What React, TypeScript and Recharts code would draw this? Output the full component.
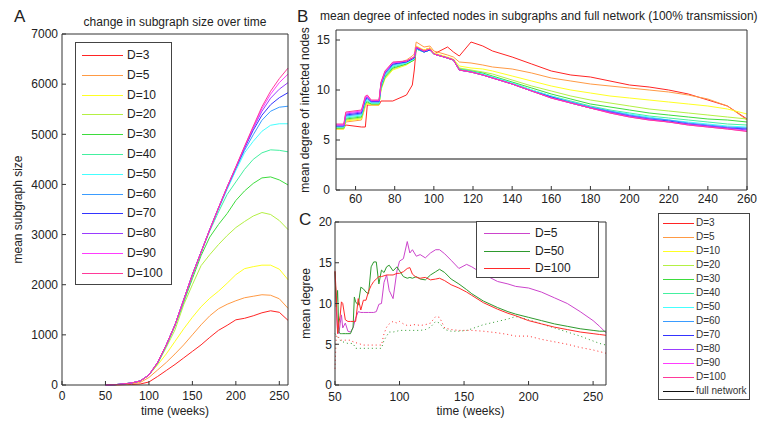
import React from 'react';
import { LineChart, Line, XAxis, YAxis, Legend, ReferenceLine } from 'recharts';

const FONT = '"Liberation Sans", Arial, sans-serif';
const INK = '#222';

// series names and colours shared by panels A and B
const D_LABELS = ['D=3', 'D=5', 'D=10', 'D=20', 'D=30', 'D=40', 'D=50', 'D=60', 'D=70', 'D=80', 'D=90', 'D=100'];
const D_COLORS = ['#ff2424', '#ff9a44', '#ffff22', '#b4f044', '#3ddc3d', '#44f0a0', '#44ffff', '#3a9cff', '#3434ff', '#9a3cff', '#ff3cff', '#ff3a9a'];

// ---- panel A : mean subgraph size ----
const WEEKS_A = [50, 60, 70, 80, 90, 100, 110, 120, 130, 140, 150, 160, 170, 180, 190, 200, 210, 220, 230, 240, 250, 260];
const SIZE_D3 = [0, 0, 5, 10, 20, 60, 170, 290, 410, 540, 670, 800, 950, 1090, 1190, 1300, 1330, 1380, 1440, 1480, 1450, 1290];
const SIZE_D5 = [0, 3, 10, 25, 50, 150, 300, 450, 620, 800, 1000, 1200, 1380, 1520, 1610, 1680, 1740, 1770, 1800, 1790, 1720, 1530];
const SIZE_D10 = [0, 5, 15, 35, 70, 200, 400, 620, 870, 1120, 1350, 1560, 1730, 1870, 2030, 2200, 2320, 2360, 2390, 2390, 2310, 2100];
const SIZE_D20 = [0, 5, 20, 40, 80, 200, 430, 750, 1100, 1600, 2000, 2380, 2600, 2800, 2980, 3140, 3260, 3370, 3440, 3400, 3280, 3100];
const SIZE_D30 = [0, 5, 20, 40, 80, 200, 430, 780, 1180, 1650, 2120, 2580, 2950, 3200, 3420, 3680, 3870, 4020, 4130, 4150, 4090, 3990];
const SIZE_D40 = [0, 5, 20, 40, 80, 200, 440, 790, 1190, 1680, 2180, 2640, 3070, 3450, 3800, 4050, 4300, 4500, 4630, 4690, 4680, 4650];
const SIZE_D50 = [0, 5, 20, 40, 80, 200, 440, 790, 1200, 1690, 2200, 2650, 3090, 3500, 3900, 4280, 4630, 4860, 5060, 5180, 5210, 5210];
const SIZE_D60 = [0, 5, 20, 40, 80, 200, 440, 800, 1200, 1700, 2200, 2650, 3100, 3520, 3930, 4320, 4680, 4990, 5280, 5460, 5540, 5560];
const SIZE_D70 = [0, 5, 20, 40, 80, 200, 450, 800, 1200, 1700, 2200, 2650, 3100, 3530, 3940, 4330, 4720, 5080, 5380, 5590, 5730, 5830];
const SIZE_D80 = [0, 5, 20, 40, 80, 200, 450, 800, 1200, 1700, 2200, 2650, 3100, 3530, 3950, 4340, 4740, 5120, 5460, 5720, 5900, 6030];
const SIZE_D90 = [0, 5, 20, 40, 80, 200, 450, 800, 1200, 1700, 2200, 2650, 3100, 3530, 3950, 4350, 4750, 5140, 5510, 5800, 6030, 6200];
const SIZE_D100 = [0, 5, 20, 40, 80, 200, 450, 800, 1200, 1700, 2200, 2650, 3100, 3530, 3950, 4350, 4760, 5160, 5550, 5860, 6110, 6320];
const SIZE_SERIES = [SIZE_D3, SIZE_D5, SIZE_D10, SIZE_D20, SIZE_D30, SIZE_D40, SIZE_D50, SIZE_D60, SIZE_D70, SIZE_D80, SIZE_D90, SIZE_D100];
const TICKS_A_X = [0, 50, 100, 150, 200, 250];
const TICKS_A_Y = [0, 1000, 2000, 3000, 4000, 5000, 6000, 7000];

// ---- panel B : mean degree of infected nodes ----
const WEEKS_B = [50, 54, 55, 63, 65, 66, 68, 72, 73, 75, 79, 86, 89, 90, 91, 95, 98, 100, 107, 110, 113, 119, 125, 130, 140, 150, 160, 170, 180, 190, 200, 210, 220, 230, 240, 250, 260];
const DEG_D3 = [6.2, 6.2, 6.5, 6.3, 6.3, 8.5, 8.5, 8.5, 8.9, 8.9, 8.9, 9.5, 10.5, 12.0, 14.2, 14.0, 14.2, 13.6, 14.3, 13.8, 13.4, 14.8, 14.4, 13.9, 13.3, 12.6, 11.9, 11.5, 11.3, 10.9, 10.5, 10.3, 10.0, 9.6, 9.0, 8.4, 7.1];
const DEG_D5 = [6.1, 6.1, 6.8, 7.0, 8.4, 8.6, 8.6, 8.6, 10.3, 11.4, 12.5, 13.0, 13.4, 13.6, 14.8, 14.3, 14.4, 13.9, 13.5, 13.3, 12.8, 12.7, 12.5, 12.3, 12.1, 11.7, 11.2, 10.9, 10.6, 10.4, 10.2, 10.0, 9.8, 9.5, 9.1, 8.4, 7.0];
const DEG_D10 = [6.1, 6.1, 6.9, 7.1, 8.5, 8.6, 8.5, 8.5, 10.0, 11.1, 12.0, 12.5, 12.9, 13.1, 14.4, 14.0, 14.2, 13.7, 13.3, 13.1, 12.4, 12.2, 12.1, 11.9, 11.4, 10.9, 10.4, 10.0, 9.7, 9.4, 9.2, 9.0, 8.8, 8.6, 8.4, 8.1, 7.6];
const DEG_D20 = [6.2, 6.2, 7.0, 7.2, 8.6, 8.7, 8.6, 8.6, 10.1, 11.2, 12.1, 12.6, 12.9, 13.0, 14.2, 13.9, 14.1, 13.6, 13.2, 13.0, 12.2, 12.0, 11.8, 11.6, 11.0, 10.4, 9.9, 9.4, 9.0, 8.7, 8.4, 8.1, 7.9, 7.7, 7.5, 7.3, 7.1];
const DEG_D30 = [6.2, 6.2, 7.1, 7.3, 8.7, 8.8, 8.6, 8.6, 10.2, 11.3, 12.2, 12.6, 12.9, 13.0, 14.1, 13.8, 14.0, 13.6, 13.2, 13.0, 12.1, 11.9, 11.7, 11.4, 10.8, 10.2, 9.6, 9.1, 8.6, 8.3, 8.0, 7.7, 7.5, 7.3, 7.1, 7.0, 6.8];
const DEG_D40 = [6.3, 6.3, 7.2, 7.4, 8.8, 8.9, 8.7, 8.7, 10.3, 11.4, 12.3, 12.7, 13.0, 13.1, 14.1, 13.8, 14.0, 13.6, 13.2, 13.0, 12.1, 11.9, 11.6, 11.3, 10.7, 10.0, 9.4, 8.9, 8.4, 8.0, 7.7, 7.4, 7.2, 7.0, 6.8, 6.6, 6.5];
const DEG_D50 = [6.3, 6.3, 7.3, 7.5, 8.9, 9.0, 8.7, 8.7, 10.4, 11.5, 12.4, 12.7, 13.0, 13.1, 14.1, 13.8, 14.0, 13.6, 13.2, 13.0, 12.0, 11.8, 11.6, 11.3, 10.7, 10.0, 9.4, 8.8, 8.3, 7.9, 7.6, 7.3, 7.0, 6.8, 6.6, 6.4, 6.3];
const DEG_D60 = [6.4, 6.4, 7.4, 7.6, 9.0, 9.1, 8.8, 8.8, 10.5, 11.6, 12.5, 12.8, 13.1, 13.2, 14.2, 13.8, 14.0, 13.6, 13.2, 13.0, 12.0, 11.8, 11.5, 11.2, 10.6, 9.9, 9.3, 8.8, 8.3, 7.9, 7.5, 7.2, 7.0, 6.7, 6.5, 6.3, 6.2];
const DEG_D70 = [6.4, 6.4, 7.5, 7.7, 9.1, 9.2, 8.85, 8.85, 10.6, 11.7, 12.6, 12.8, 13.1, 13.2, 14.2, 13.8, 14.0, 13.6, 13.2, 13.0, 12.0, 11.8, 11.5, 11.2, 10.6, 9.9, 9.3, 8.7, 8.2, 7.8, 7.4, 7.1, 6.9, 6.6, 6.4, 6.2, 6.1];
const DEG_D80 = [6.5, 6.5, 7.6, 7.8, 9.2, 9.3, 8.9, 8.9, 10.7, 11.8, 12.7, 12.9, 13.2, 13.3, 14.3, 13.9, 14.1, 13.6, 13.2, 13.0, 12.0, 11.8, 11.5, 11.2, 10.6, 9.9, 9.2, 8.7, 8.2, 7.8, 7.4, 7.1, 6.8, 6.6, 6.4, 6.2, 6.0];
const DEG_D90 = [6.5, 6.5, 7.7, 7.9, 9.3, 9.4, 8.95, 8.95, 10.7, 11.8, 12.7, 12.9, 13.2, 13.3, 14.3, 13.9, 14.1, 13.6, 13.2, 13.0, 12.0, 11.8, 11.5, 11.2, 10.6, 9.9, 9.2, 8.7, 8.2, 7.7, 7.3, 7.0, 6.8, 6.5, 6.3, 6.1, 5.9];
const DEG_D100 = [6.6, 6.6, 7.8, 8.0, 9.4, 9.5, 9.0, 9.0, 10.8, 11.9, 12.8, 12.9, 13.2, 13.3, 14.3, 13.9, 14.1, 13.6, 13.2, 13.0, 12.0, 11.8, 11.5, 11.2, 10.6, 9.9, 9.2, 8.7, 8.2, 7.7, 7.3, 7.0, 6.8, 6.5, 6.3, 6.1, 5.85];
const DEG_SERIES = [DEG_D3, DEG_D5, DEG_D10, DEG_D20, DEG_D30, DEG_D40, DEG_D50, DEG_D60, DEG_D70, DEG_D80, DEG_D90, DEG_D100];
const FULL_NETWORK_DEGREE = 3.1;
const TICKS_B_X = [60, 80, 100, 120, 140, 160, 180, 200, 220, 240, 260];
const TICKS_B_Y = [0, 5, 10, 15];

// ---- panel C : mean degree, selected D ----
const WEEKS_C = [50, 51, 52, 53, 54, 55, 56, 58, 60, 62, 64, 65, 66, 68, 70, 72, 74, 76, 78, 80, 82, 84, 86, 88, 90, 92, 95, 98, 100, 103, 106, 108, 110, 113, 116, 120, 124, 128, 131, 135, 140, 146, 152, 156, 165, 176, 184, 190, 200, 210, 220, 230, 240, 250, 255, 260];
const C_D5 = [13.9, 9.2, 6.7, 6.3, 7.5, 8.6, 7.0, 7.6, 6.6, 6.5, 7.0, 7.6, 8.2, 9.0, 8.9, 8.9, 8.9, 8.9, 8.9, 8.9, 9.0, 9.9, 10.0, 12.6, 13.5, 11.6, 10.6, 14.0, 15.2, 15.5, 17.6, 16.2, 16.6, 15.8, 16.0, 15.6, 16.2, 16.6, 16.6, 16.1, 15.3, 14.3, 14.8, 14.5, 13.6, 12.7, 12.4, 12.1, 11.9, 11.4, 10.7, 10.0, 9.0, 7.9, 7.2, 6.4];
const C_D50 = [13.9, 9.6, 11.6, 6.5, 6.3, 6.3, 6.3, 6.3, 6.3, 6.3, 7.1, 10.8, 10.2, 9.8, 12.0, 11.8, 11.4, 11.2, 14.5, 15.1, 15.1, 12.4, 14.1, 13.8, 14.5, 14.7, 14.0, 14.5, 14.0, 13.3, 13.1, 13.2, 13.1, 13.3, 13.0, 12.9, 13.5, 13.9, 14.2, 13.8, 13.0, 12.4, 11.7, 11.2, 10.3, 9.5, 9.0, 8.7, 8.3, 7.9, 7.5, 7.2, 6.9, 6.7, 6.6, 6.6];
const C_D100 = [14.0, 11.0, 6.3, 7.6, 8.5, 10.2, 10.0, 8.0, 7.8, 7.8, 7.8, 7.8, 7.8, 10.6, 9.2, 10.4, 10.4, 11.5, 12.2, 12.7, 13.0, 13.3, 13.3, 13.4, 13.5, 13.5, 13.5, 13.7, 13.7, 13.9, 14.3, 14.4, 13.6, 13.2, 13.1, 13.2, 12.9, 13.0, 13.1, 12.8, 12.3, 11.9, 11.4, 11.0, 10.1, 9.3, 8.8, 8.5, 7.9, 7.5, 7.1, 6.8, 6.5, 6.3, 6.2, 6.1];
const C_D50_FULL = [6.3, 6.1, 5.9, 5.7, 5.5, 5.3, 5.3, 5.2, 5.1, 5.1, 5.1, 4.8, 4.5, 4.5, 4.5, 4.5, 4.5, 4.5, 4.5, 4.5, 4.5, 4.5, 4.5, 5.5, 6.0, 6.5, 6.5, 6.6, 6.7, 6.7, 6.7, 6.7, 6.7, 6.7, 6.7, 6.8, 7.1, 7.8, 7.6, 6.8, 6.6, 6.6, 6.7, 6.9, 7.4, 7.8, 8.1, 8.4, 8.0, 7.5, 7.0, 6.5, 6.0, 5.4, 5.1, 4.9];
const C_D100_FULL = [2.0, 6.1, 6.0, 5.8, 5.6, 5.5, 5.5, 5.5, 5.5, 5.5, 5.3, 5.3, 5.2, 5.1, 5.0, 4.9, 4.9, 4.9, 4.9, 4.9, 4.9, 4.9, 4.9, 6.3, 7.1, 7.5, 7.8, 7.6, 7.8, 7.5, 7.3, 7.3, 7.4, 7.4, 7.3, 7.4, 7.6, 8.4, 8.3, 7.0, 6.8, 6.7, 6.7, 6.7, 6.6, 6.4, 6.2, 6.0, 6.0, 5.6, 5.3, 5.0, 4.6, 4.3, 4.1, 3.9];
const C_LABELS = ['D=5', 'D=50', 'D=100'];
const C_SOLID = [C_D5, C_D50, C_D100];
const C_DOTTED = [C_D50_FULL, C_D100_FULL];
const C_COLORS = ['#cc44cc', '#2e9a2e', '#ff2a2a'];
const C_DOTTED_COLORS = ['#2e9a2e', '#ff2a2a'];
const TICKS_C_X = [50, 100, 150, 200, 250];
const TICKS_C_Y = [0, 5, 10, 15, 20];

const toRows = (weeks: number[], series: number[][]) =>
  weeks.map((week, i) => {
    const row: Record<string, number> = { week };
    series.forEach((vals, k) => { row['s' + k] = vals[i]; });
    return row;
  });

const sizeRows = toRows(WEEKS_A, SIZE_SERIES);
const degRows = toRows(WEEKS_B, DEG_SERIES);
const cRows = toRows(WEEKS_C, [...C_SOLID, ...C_DOTTED]);

const tickStyle = { fontSize: 12, fill: INK, fontFamily: FONT };
const axisStroke = { stroke: '#333' };

interface BoxProps {
  labels: string[];
  colors: string[];
  width: number;
  height: number;
  firstRow: number;
  rowGap: number;
  lineX: number;
  lineLen: number;
  textX: number;
  fontSize: number;
  textColor?: string;
}

const LegendBox = ({ labels, colors, width, height, firstRow, rowGap, lineX, lineLen, textX, fontSize, textColor = INK }: BoxProps) => (
  <div style={{ position: 'relative', width, height, boxSizing: 'border-box', border: '1px solid #444', background: '#fff', fontFamily: FONT }}>
    {labels.map((label, i) => (
      <div key={label} style={{ position: 'absolute', left: 0, top: Math.round(firstRow + rowGap * i) - 8, height: 16, width: '100%' }}>
        <div style={{ position: 'absolute', left: lineX - 1, top: 8, width: lineLen, height: 1, background: colors[i] }} />
        <span style={{ position: 'absolute', left: textX - 1, top: 0, lineHeight: '16px', fontSize, color: textColor, whiteSpace: 'nowrap' }}>{label}</span>
      </div>
    ))}
  </div>
);

const text = (left: number, top: number, size: number, content: string, extra: React.CSSProperties = {}) => (
  <div style={{ position: 'absolute', left, top, fontSize: size, lineHeight: 1, color: INK, whiteSpace: 'nowrap', ...extra }}>{content}</div>
);

export default function App() {
  return (
    <div style={{ position: 'absolute', left: 0, top: 0, width: 762, height: 422, background: '#fff', fontFamily: FONT, overflow: 'hidden' }}>
      {/* panel A */}
      <div style={{ position: 'absolute', left: 0, top: 0 }}>
        <LineChart width={300} height={422} data={sizeRows} margin={{ top: 33, right: 11, bottom: 17, left: 22 }}>
          <XAxis dataKey="week" type="number" domain={[0, 260]} ticks={TICKS_A_X} interval={0} height={20}
            tickSize={-4} tickMargin={10} tick={tickStyle} axisLine={axisStroke} tickLine={axisStroke}
            label={{ value: 'time (weeks)', position: 'bottom', offset: 1, style: { fontSize: 12, fill: INK } }} />
          <XAxis xAxisId="top" orientation="top" dataKey="week" type="number" domain={[0, 260]} ticks={TICKS_A_X} height={1}
            tickSize={-4} tick={false} axisLine={axisStroke} tickLine={axisStroke} />
          <YAxis type="number" domain={[0, 7000]} ticks={TICKS_A_Y} interval={0} width={40}
            tickSize={-4} tickMargin={8} tick={tickStyle} axisLine={axisStroke} tickLine={axisStroke}
            label={{ value: 'mean subgraph size', angle: -90, position: 'insideLeft', offset: -4, style: { textAnchor: 'middle', fontSize: 12, fill: INK } }} />
          <YAxis yAxisId="right" orientation="right" type="number" domain={[0, 7000]} ticks={TICKS_A_Y} width={1}
            tickSize={-4} tick={false} axisLine={axisStroke} tickLine={axisStroke} />
          {D_LABELS.map((label, k) => (
            <Line key={label} dataKey={'s' + k} name={label} stroke={D_COLORS[k]} strokeWidth={1} dot={false} type="linear" isAnimationActive={false} />
          ))}
          <Legend layout="vertical" align="center" verticalAlign="middle"
            wrapperStyle={{ left: 75, top: 42, width: 97, height: 243 }}
            content={() => (
              <LegendBox labels={D_LABELS} colors={D_COLORS} width={97} height={243} firstRow={12} rowGap={19.8}
                lineX={7} lineLen={41} textX={52} fontSize={12} />
            )} />
        </LineChart>
      </div>

      {/* panel B */}
      <div style={{ position: 'absolute', left: 290, top: 0 }}>
        <LineChart width={472} height={205} data={degRows} margin={{ top: 29, right: 14, bottom: 0, left: 16 }}>
          <XAxis dataKey="week" type="number" domain={[50, 260]} ticks={TICKS_B_X} interval={0} height={15}
            tickSize={-4} tickMargin={8} tick={tickStyle} axisLine={axisStroke} tickLine={axisStroke} />
          <XAxis xAxisId="top" orientation="top" dataKey="week" type="number" domain={[50, 260]} ticks={TICKS_B_X} height={1}
            tickSize={-4} tick={false} axisLine={axisStroke} tickLine={axisStroke} />
          <YAxis type="number" domain={[0, 16]} ticks={TICKS_B_Y} interval={0} width={30}
            tickSize={-4} tickMargin={10} tick={tickStyle} axisLine={axisStroke} tickLine={axisStroke}
            label={{ value: 'mean degree of infected nodes', angle: -90, position: 'insideLeft', offset: -1, style: { textAnchor: 'middle', fontSize: 12, fill: INK } }} />
          <YAxis yAxisId="right" orientation="right" type="number" domain={[0, 16]} ticks={TICKS_B_Y} width={1}
            tickSize={-4} tick={false} axisLine={axisStroke} tickLine={axisStroke} />
          <ReferenceLine y={FULL_NETWORK_DEGREE} stroke="#111" strokeWidth={1} />
          {D_LABELS.map((label, k) => (
            <Line key={label} dataKey={'s' + k} name={label} stroke={D_COLORS[k]} strokeWidth={1} dot={false} type="linear" isAnimationActive={false} />
          ))}
          <Legend layout="vertical" align="center" verticalAlign="middle"
            wrapperStyle={{ left: 368, top: 213, width: 92, height: 187 }}
            content={() => (
              <LegendBox labels={[...D_LABELS, 'full network']} colors={[...D_COLORS, '#111']} width={92} height={187}
                firstRow={8.7} rowGap={14} lineX={5} lineLen={31} textX={38} fontSize={10} textColor="#333" />
            )} />
        </LineChart>
      </div>

      {/* panel C */}
      <div style={{ position: 'absolute', left: 290, top: 205 }}>
        <LineChart width={330} height={217} data={cRows} margin={{ top: 16, right: 13, bottom: 17, left: 15 }}>
          <XAxis dataKey="week" type="number" domain={[50, 260]} ticks={TICKS_C_X} interval={0} height={20}
            tickSize={-4} tickMargin={11} tick={tickStyle} axisLine={axisStroke} tickLine={axisStroke}
            label={{ value: 'time (weeks)', position: 'bottom', offset: 1, style: { fontSize: 12, fill: INK } }} />
          <XAxis xAxisId="top" orientation="top" dataKey="week" type="number" domain={[50, 260]} ticks={TICKS_C_X} height={1}
            tickSize={-4} tick={false} axisLine={axisStroke} tickLine={axisStroke} />
          <YAxis type="number" domain={[0, 20]} ticks={TICKS_C_Y} interval={0} width={30}
            tickSize={-4} tickMargin={7} tick={tickStyle} axisLine={axisStroke} tickLine={axisStroke}
            label={{ value: 'mean degree', angle: -90, position: 'insideLeft', offset: 1, style: { textAnchor: 'middle', fontSize: 12, fill: INK } }} />
          <YAxis yAxisId="right" orientation="right" type="number" domain={[0, 20]} ticks={TICKS_C_Y} width={1}
            tickSize={-4} tick={false} axisLine={axisStroke} tickLine={axisStroke} />
          {C_DOTTED.map((_, k) => (
            <Line key={'full' + k} dataKey={'s' + (C_SOLID.length + k)} stroke={C_DOTTED_COLORS[k]} strokeWidth={1} strokeDasharray="1 3"
              dot={false} type="linear" isAnimationActive={false} legendType="none" />
          ))}
          {C_LABELS.map((label, k) => (
            <Line key={label} dataKey={'s' + k} name={label} stroke={C_COLORS[k]} strokeWidth={1} dot={false} type="linear" isAnimationActive={false} />
          ))}
          <Legend layout="vertical" align="center" verticalAlign="middle"
            wrapperStyle={{ left: 186, top: 16, width: 123, height: 57 }}
            content={() => (
              <LegendBox labels={C_LABELS} colors={C_COLORS} width={123} height={57} firstRow={10.7} rowGap={17.8}
                lineX={8} lineLen={46} textX={59} fontSize={12} />
            )} />
        </LineChart>
      </div>

      {/* titles and panel letters */}
      {text(14, 8, 17, 'A')}
      {text(175, 15.5, 12, 'change in subgraph size over time', { transform: 'translateX(-50%)' })}
      {text(297, 8, 17, 'B')}
      {text(320, 9.5, 12, 'mean degree of infected nodes in subgraphs and full network (100% transmission)')}
      {text(299, 211, 17, 'C')}
    </div>
  );
}
